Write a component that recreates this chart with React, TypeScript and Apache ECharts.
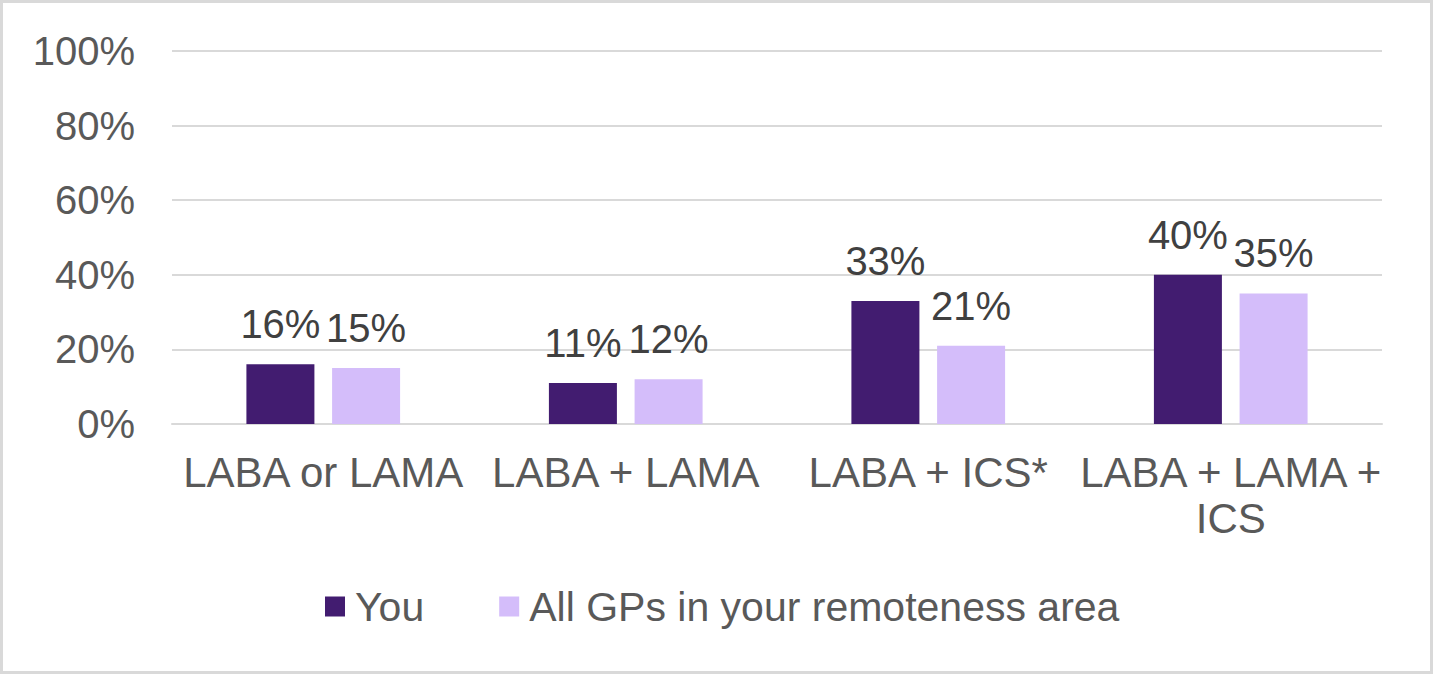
import React, { useEffect, useRef } from "react";
import * as echarts from "echarts";

const categories = ["LABA or LAMA", "LABA + LAMA", "LABA + ICS*", "LABA + LAMA +\nICS"];
const youValues = [16, 11, 33, 40];
const gpValues = [15, 12, 21, 35];
const seriesNames = ["You", "All GPs in your remoteness area"];

export default function App() {
  const ref = useRef<HTMLDivElement>(null);
  useEffect(() => {
    document.body.style.margin = "0";
    const chart = echarts.init(ref.current!, null, { renderer: "svg" });
    const font = "'Liberation Sans', Arial, sans-serif";
    const label = {
      show: true,
      position: "top",
      distance: 20,
      formatter: "{c}%",
      color: "#404040",
      fontSize: 40,
      fontFamily: font,
    };
    chart.setOption({
      animation: false,
      backgroundColor: "#ffffff",
      graphic: [
        {
          type: "rect",
          shape: { x: 1.5, y: 1.5, width: 1430, height: 671 },
          style: { fill: "none", stroke: "#d9d9d9", lineWidth: 3 },
          silent: true,
        },
      ],
      grid: { left: 172, right: 51, top: 51, bottom: 250, containLabel: false },
      legend: {
        data: seriesNames,
        top: 581,
        left: 320,
        itemWidth: 20,
        itemHeight: 20,
        itemGap: 75,
        icon: "rect",
        textStyle: { color: "#595959", fontSize: 41, fontFamily: font, padding: [0, 0, 0, 5] },
      },
      xAxis: {
        type: "category",
        data: categories,
        axisLine: { show: true, lineStyle: { color: "#d9d9d9", width: 2 } },
        axisTick: { show: false },
        axisLabel: {
          color: "#595959",
          fontSize: 42,
          fontFamily: font,
          margin: 25,
          lineHeight: 46,
          interval: 0,
        },
      },
      yAxis: {
        type: "value",
        min: 0,
        max: 100,
        interval: 20,
        axisLine: { show: false },
        axisTick: { show: false },
        splitLine: { lineStyle: { color: "#d9d9d9", width: 2 } },
        axisLabel: {
          formatter: "{value}%",
          color: "#595959",
          fontSize: 40,
          fontFamily: font,
          margin: 37,
        },
      },
      series: [
        {
          name: seriesNames[0],
          type: "bar",
          data: youValues,
          barWidth: 68,
          barGap: "26%",
          itemStyle: { color: "#421C70" },
          label,
        },
        {
          name: seriesNames[1],
          type: "bar",
          data: gpValues,
          barWidth: 68,
          barGap: "26%",
          itemStyle: { color: "#D4BDFA" },
          label,
        },
      ],
    });
    return () => chart.dispose();
  }, []);
  return <div ref={ref} style={{ width: 1433, height: 674 }} />;
}
